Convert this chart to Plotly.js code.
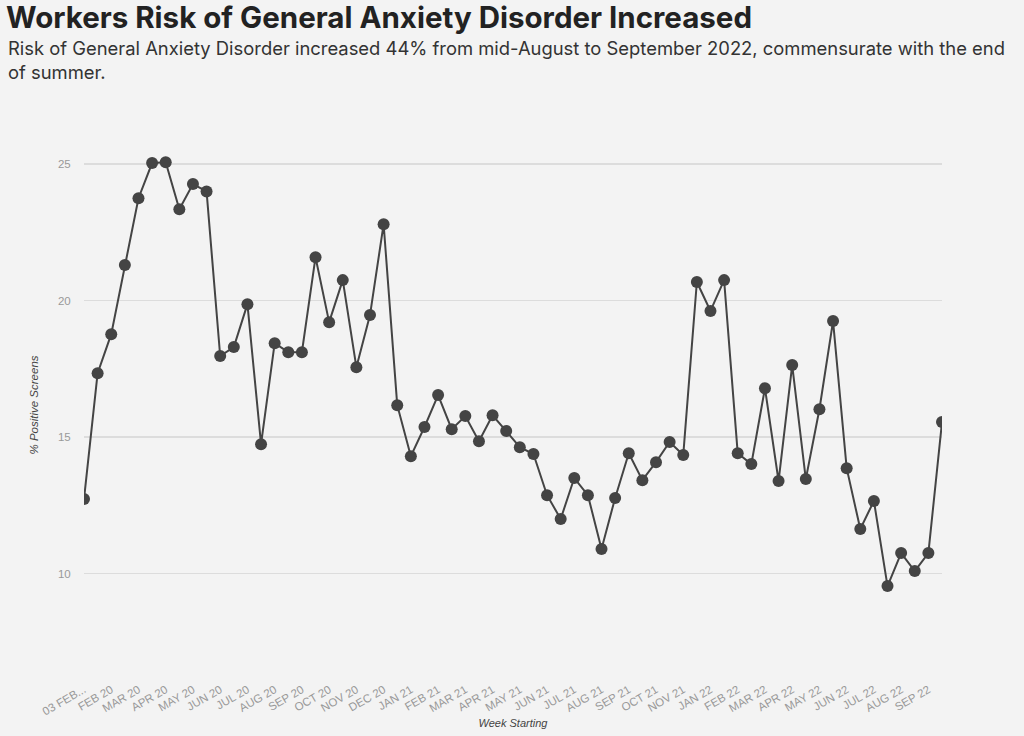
<!DOCTYPE html>
<html>
<head>
<meta charset="utf-8">
<script src="https://cdn.plot.ly/plotly-3.0.1.min.js"></script>
<style>
html,body{margin:0;padding:0;background:#f3f3f3;}
#chart{width:1024px;height:736px;}
</style>
</head>
<body>
<div id="chart"></div>
<script>
// Tick labels (every second week is labelled)
const tickLabels = ["03 FEB...","FEB 20","MAR 20","APR 20","MAY 20","JUN 20","JUL 20","AUG 20","SEP 20","OCT 20","NOV 20","DEC 20","JAN 21","FEB 21","MAR 21","APR 21","MAY 21","JUN 21","JUL 21","AUG 21","SEP 21","OCT 21","NOV 21","JAN 22","FEB 22","MAR 22","APR 22","MAY 22","JUN 22","JUL 22","AUG 22","SEP 22"];

// % positive screens per week
const positiveScreens = [12.73,17.34,18.77,21.30,23.75,25.04,25.07,23.35,24.27,24.00,
  17.97,18.30,19.87,14.74,18.44,18.11,18.11,21.59,19.21,20.75,
  17.56,19.47,22.80,16.17,14.30,15.37,16.54,15.29,15.77,14.85,
  15.80,15.22,14.63,14.38,12.87,12.00,13.50,12.87,10.90,12.77,
  14.41,13.42,14.08,14.82,14.34,20.68,19.62,20.75,14.41,14.01,
  16.79,13.39,17.64,13.46,16.02,19.25,13.86,11.63,12.66,9.54,
  10.75,10.09,10.75,15.55];

const weekIndex = positiveScreens.map((_, i) => i);
const tickVals = tickLabels.map((_, i) => i * 2);

const trace = {
  x: weekIndex,
  y: positiveScreens,
  type: 'scatter',
  mode: 'lines+markers',
  line: {color: '#444444', width: 2},
  marker: {color: '#444444', size: 12},
  hoverinfo: 'y'
};

const layout = {
  width: 1024, height: 736,
  paper_bgcolor: '#f3f3f3', plot_bgcolor: '#f3f3f3',
  margin: {l: 84, r: 82, t: 130, b: 56},
  showlegend: false,
  font: {family: 'Liberation Sans, Arial, sans-serif', color: '#999999', size: 11},
  title: {
    text: '<b>Workers Risk of General Anxiety Disorder Increased</b>',
    font: {family: 'Inter, sans-serif', size: 29.5, color: '#222222'},
    x: 6/1024, xanchor: 'left', xref: 'container', y: 0.976, yanchor: 'middle', yref: 'container'
  },
  annotations: [
    {
      text: 'Risk of General Anxiety Disorder increased 44% from mid-August to September 2022, commensurate with the end<br>of summer.',
      xref: 'paper', yref: 'paper', x: (6 - 84) / 858, y: 1 + (130 - 35) / 550, xanchor: 'left', yanchor: 'top',
      align: 'left', showarrow: false,
      font: {family: 'Inter, sans-serif', size: 18.4, color: '#333333'}
    }
  ],
  xaxis: {
    range: [0, 63],
    tickvals: tickVals, ticktext: tickLabels,
    tickangle: -30,
    showgrid: false, zeroline: false, showline: false,
    ticks: '',
    tickfont: {size: 11.5, color: '#999999'},
    title: {text: 'Week Starting', font: {size: 11, color: '#444444', style: 'italic'}, standoff: 2}
  },
  yaxis: {
    range: [6.10, 26.25],
    tickvals: [10, 15, 20, 25],
    showgrid: true, gridcolor: '#dcdcdc', gridwidth: 1.5,
    zeroline: false, showline: false,
    ticks: 'outside', ticklen: 10, tickcolor: 'rgba(0,0,0,0)',
    tickfont: {size: 11.5, color: '#999999'},
    title: {text: '% Positive Screens', font: {size: 11.5, color: '#444444', style: 'italic'}, standoff: 16}
  }
};

Plotly.newPlot('chart', [trace], layout, {displayModeBar: false, staticPlot: true});
</script>
</body>
</html>
